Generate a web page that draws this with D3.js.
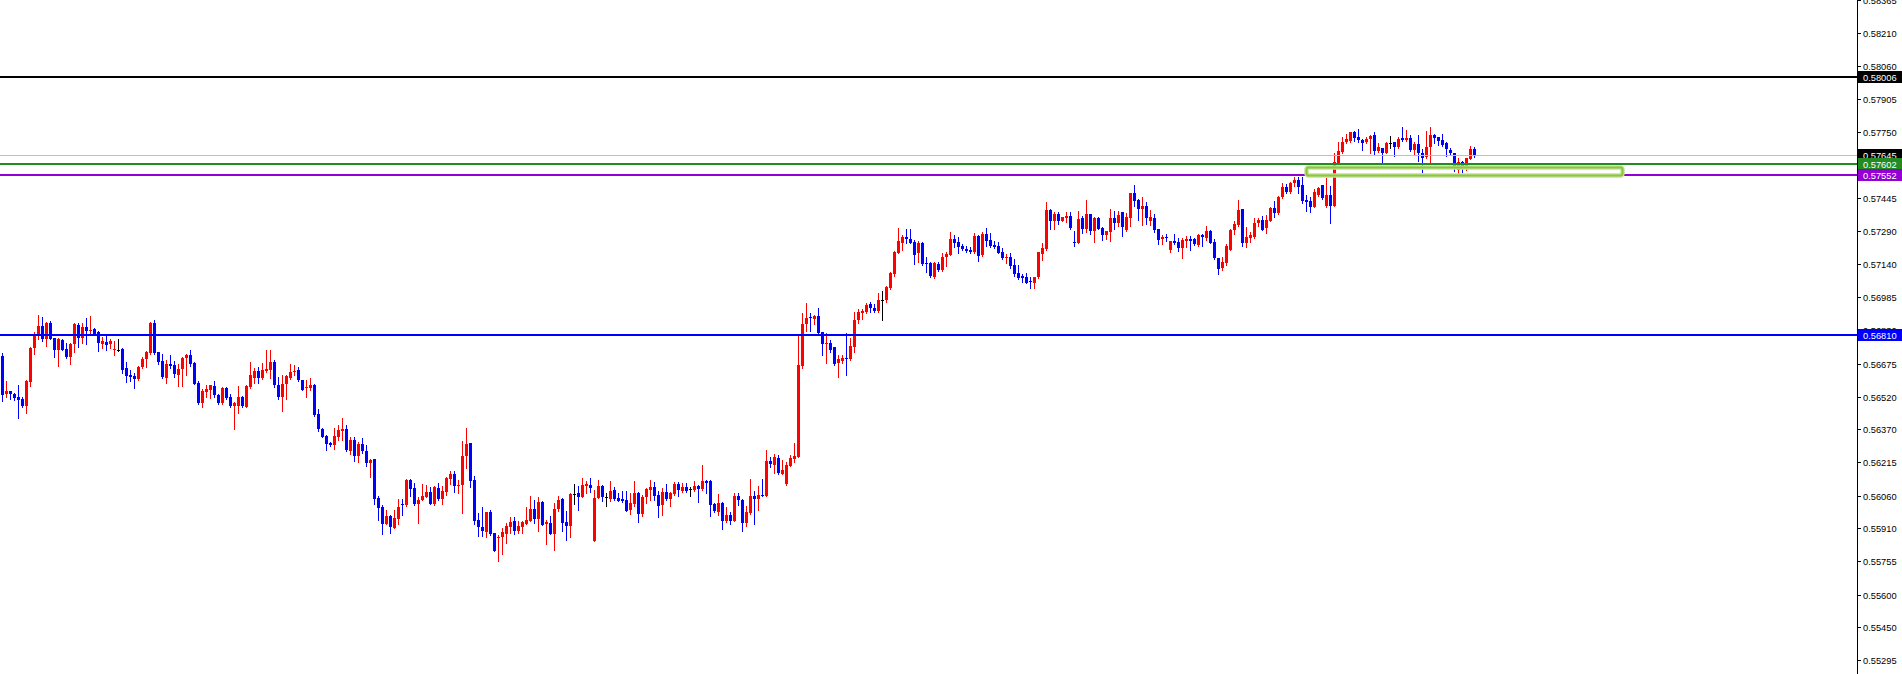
<!DOCTYPE html>
<html><head><meta charset="utf-8">
<script src="https://cdn.jsdelivr.net/npm/d3@7"></script>
<style>html,body{margin:0;padding:0;background:#fff;overflow:hidden}</style>
</head><body>
<svg id="chart" width="1902" height="674"></svg>
<script>
// ---- DATA (EUR price candles, oldest -> newest) ----
const open = [
0.56710,0.56533,0.56549,0.56533,0.56518,0.56510,0.56478,0.56591,0.56746,0.56803,
0.56850,0.56788,0.56865,0.56792,0.56738,0.56785,0.56743,0.56707,0.56766,0.56854,
0.56792,0.56843,0.56828,0.56836,0.56820,0.56764,0.56777,0.56764,0.56740,0.56740,
0.56743,0.56653,0.56622,0.56617,0.56603,0.56661,0.56695,0.56723,0.56865,0.56727,
0.56687,0.56609,0.56673,0.56668,0.56622,0.56648,0.56699,0.56715,0.56679,0.56586,
0.56490,0.56541,0.56552,0.56571,0.56529,0.56490,0.56563,0.56518,0.56478,0.56478,
0.56521,0.56475,0.56568,0.56609,0.56640,0.56606,0.56639,0.56645,0.56684,0.56575,
0.56518,0.56578,0.56606,0.56634,0.56645,0.56599,0.56560,0.56560,0.56575,0.56440,
0.56369,0.56340,0.56307,0.56296,0.56335,0.56363,0.56369,0.56268,0.56320,0.56245,
0.56301,0.56268,0.56214,0.56231,0.56048,0.56010,0.55929,0.55966,0.55912,0.55952,
0.56022,0.56017,0.56134,0.56095,0.56020,0.56041,0.56056,0.56076,0.56022,0.56098,
0.56045,0.56079,0.56138,0.56161,0.56107,0.56110,0.56245,0.56304,0.56134,0.55948,
0.55917,0.55890,0.55986,0.55889,0.55865,0.55870,0.55882,0.55917,0.55943,0.55896,
0.55917,0.55929,0.55944,0.55999,0.55952,0.56033,0.55927,0.55932,0.55882,0.55999,
0.56044,0.55937,0.55921,0.56070,0.56072,0.56056,0.56106,0.56110,0.55851,0.56051,
0.56106,0.56054,0.56045,0.56087,0.56051,0.56045,0.56041,0.55994,0.56020,0.56075,
0.55975,0.56056,0.56087,0.56099,0.56064,0.56017,0.56079,0.56045,0.56068,0.56115,
0.56084,0.56099,0.56093,0.56087,0.56106,0.56092,0.56130,0.56130,0.56022,0.55986,
0.56028,0.55944,0.55971,0.55944,0.56059,0.56041,0.55932,0.55979,0.56059,0.56045,
0.56064,0.56059,0.56223,0.56203,0.56237,0.56161,0.56115,0.56200,0.56231,0.56242,
0.56665,0.56857,0.56893,0.56882,0.56896,0.56820,0.56764,0.56769,0.56754,0.56676,
0.56688,0.56699,0.56695,0.56754,0.56878,0.56912,0.56916,0.56950,0.56935,0.56919,
0.56972,0.56971,0.57025,0.57091,0.57191,0.57237,0.57265,0.57253,0.57242,0.57191,
0.57237,0.57144,0.57144,0.57079,0.57136,0.57110,0.57172,0.57180,0.57254,0.57239,
0.57222,0.57206,0.57203,0.57195,0.57268,0.57180,0.57277,0.57250,0.57226,0.57222,
0.57192,0.57164,0.57172,0.57133,0.57095,0.57082,0.57079,0.57059,0.57051,0.57076,
0.57184,0.57206,0.57389,0.57339,0.57370,0.57339,0.57350,0.57361,0.57242,0.57237,
0.57350,0.57301,0.57370,0.57293,0.57350,0.57307,0.57273,0.57288,0.57353,0.57330,
0.57381,0.57296,0.57353,0.57470,0.57436,0.57392,0.57409,0.57339,0.57353,0.57301,
0.57253,0.57265,0.57203,0.57246,0.57242,0.57211,0.57246,0.57254,0.57253,0.57226,
0.57273,0.57257,0.57291,0.57239,0.57164,0.57118,0.57141,0.57203,0.57296,0.57319,
0.57392,0.57234,0.57257,0.57265,0.57327,0.57343,0.57307,0.57339,0.57397,0.57374,
0.57448,0.57498,0.57474,0.57513,0.57529,0.57505,0.57436,0.57432,0.57405,0.57459,
0.57505,0.57408,0.57459,0.57408,0.57609,0.57660,0.57704,0.57710,0.57753,0.57727,
0.57715,0.57704,0.57718,0.57738,0.57665,0.57676,0.57656,0.57701,0.57704,0.57680,
0.57725,0.57715,0.57722,0.57668,0.57696,0.57653,0.57637,0.57680,0.57738,0.57727,
0.57715,0.57699,0.57668,0.57653,0.57575,0.57614,0.57578,0.57626,0.57671];
const high = [
0.56726,0.56594,0.56549,0.56537,0.56575,0.56518,0.56599,0.56754,0.56820,0.56901,
0.56893,0.56870,0.56874,0.56792,0.56792,0.56788,0.56769,0.56769,0.56862,0.56862,
0.56862,0.56885,0.56896,0.56839,0.56828,0.56800,0.56808,0.56789,0.56781,0.56789,
0.56746,0.56684,0.56645,0.56630,0.56665,0.56707,0.56733,0.56870,0.56878,0.56730,
0.56718,0.56692,0.56715,0.56687,0.56671,0.56707,0.56718,0.56738,0.56684,0.56594,
0.56555,0.56575,0.56575,0.56594,0.56532,0.56564,0.56568,0.56532,0.56495,0.56571,
0.56524,0.56575,0.56684,0.56653,0.56661,0.56679,0.56738,0.56738,0.56692,0.56614,
0.56622,0.56622,0.56671,0.56668,0.56661,0.56599,0.56599,0.56606,0.56580,0.56465,
0.56374,0.56343,0.56312,0.56374,0.56389,0.56423,0.56389,0.56335,0.56332,0.56312,
0.56327,0.56296,0.56231,0.56231,0.56059,0.56017,0.55994,0.55971,0.55994,0.56045,
0.56045,0.56137,0.56137,0.56118,0.56056,0.56115,0.56110,0.56099,0.56106,0.56121,
0.56106,0.56146,0.56177,0.56175,0.56134,0.56315,0.56374,0.56307,0.56152,0.55982,
0.56006,0.55983,0.55994,0.55889,0.55878,0.55909,0.55932,0.55963,0.55960,0.55944,
0.55944,0.56006,0.56061,0.56041,0.56056,0.56036,0.55948,0.55966,0.56028,0.56059,
0.56051,0.55991,0.56072,0.56115,0.56106,0.56141,0.56130,0.56141,0.56087,0.56134,
0.56110,0.56075,0.56129,0.56099,0.56072,0.56082,0.56084,0.56072,0.56129,0.56079,
0.56064,0.56095,0.56134,0.56126,0.56084,0.56095,0.56115,0.56079,0.56126,0.56126,
0.56118,0.56118,0.56099,0.56129,0.56110,0.56203,0.56134,0.56134,0.56028,0.56068,
0.56033,0.56010,0.55986,0.56075,0.56072,0.56044,0.56013,0.56138,0.56084,0.56106,
0.56138,0.56273,0.56242,0.56254,0.56250,0.56227,0.56216,0.56250,0.56307,0.56808,
0.56909,0.56958,0.56909,0.56901,0.56935,0.56823,0.56815,0.56785,0.56754,0.56715,
0.56715,0.56819,0.56792,0.56916,0.56927,0.56927,0.56958,0.56963,0.56950,0.57005,
0.57014,0.57036,0.57102,0.57198,0.57307,0.57273,0.57299,0.57299,0.57250,0.57245,
0.57242,0.57172,0.57149,0.57149,0.57149,0.57191,0.57195,0.57288,0.57273,0.57262,
0.57229,0.57222,0.57218,0.57281,0.57273,0.57285,0.57304,0.57284,0.57246,0.57242,
0.57211,0.57184,0.57191,0.57160,0.57133,0.57091,0.57098,0.57076,0.57076,0.57195,
0.57237,0.57428,0.57394,0.57378,0.57381,0.57355,0.57381,0.57381,0.57291,0.57386,
0.57361,0.57436,0.57370,0.57355,0.57358,0.57312,0.57291,0.57394,0.57386,0.57384,
0.57381,0.57377,0.57470,0.57505,0.57439,0.57451,0.57428,0.57389,0.57369,0.57301,
0.57273,0.57277,0.57246,0.57277,0.57260,0.57257,0.57270,0.57270,0.57260,0.57276,
0.57276,0.57315,0.57296,0.57254,0.57167,0.57169,0.57229,0.57301,0.57338,0.57436,
0.57395,0.57312,0.57288,0.57350,0.57350,0.57363,0.57366,0.57401,0.57432,0.57454,
0.57516,0.57510,0.57521,0.57541,0.57544,0.57544,0.57459,0.57448,0.57485,0.57494,
0.57505,0.57539,0.57501,0.57653,0.57704,0.57727,0.57742,0.57753,0.57758,0.57764,
0.57718,0.57727,0.57738,0.57752,0.57702,0.57676,0.57707,0.57733,0.57707,0.57730,
0.57773,0.57761,0.57738,0.57704,0.57738,0.57671,0.57756,0.57777,0.57742,0.57730,
0.57742,0.57704,0.57676,0.57656,0.57629,0.57618,0.57629,0.57687,0.57680];
const low = [
0.56502,0.56518,0.56509,0.56506,0.56420,0.56475,0.56444,0.56571,0.56719,0.56788,
0.56781,0.56758,0.56788,0.56707,0.56665,0.56738,0.56702,0.56673,0.56730,0.56750,
0.56769,0.56766,0.56815,0.56808,0.56735,0.56746,0.56738,0.56749,0.56715,0.56735,
0.56633,0.56591,0.56595,0.56563,0.56599,0.56656,0.56661,0.56719,0.56719,0.56673,
0.56609,0.56586,0.56653,0.56614,0.56571,0.56571,0.56622,0.56664,0.56580,0.56485,
0.56471,0.56518,0.56513,0.56521,0.56485,0.56485,0.56510,0.56471,0.56369,0.56444,
0.56471,0.56471,0.56560,0.56583,0.56583,0.56603,0.56636,0.56606,0.56568,0.56509,
0.56456,0.56510,0.56603,0.56622,0.56595,0.56552,0.56518,0.56552,0.56433,0.56363,
0.56332,0.56273,0.56292,0.56278,0.56320,0.56320,0.56268,0.56254,0.56223,0.56219,
0.56261,0.56199,0.56149,0.56022,0.55948,0.55882,0.55929,0.55889,0.55912,0.55929,
0.55971,0.56013,0.56059,0.56017,0.55935,0.56041,0.56056,0.56022,0.56017,0.56041,
0.56022,0.56064,0.56115,0.56079,0.56075,0.55982,0.56191,0.56103,0.55929,0.55873,
0.55873,0.55870,0.55878,0.55805,0.55758,0.55789,0.55842,0.55885,0.55882,0.55889,
0.55889,0.55929,0.55944,0.55932,0.55898,0.55924,0.55836,0.55882,0.55808,0.55991,
0.55896,0.55855,0.55870,0.56022,0.55994,0.56056,0.56075,0.56079,0.55851,0.56051,
0.56037,0.56013,0.56037,0.56041,0.56037,0.56033,0.55989,0.55975,0.56013,0.55940,
0.55966,0.56025,0.56041,0.56041,0.55963,0.55971,0.56041,0.56013,0.56064,0.56059,
0.56079,0.56076,0.56059,0.56082,0.56033,0.56087,0.56075,0.55966,0.55986,0.55971,
0.55906,0.55940,0.55929,0.55944,0.56017,0.55898,0.55921,0.55975,0.55929,0.55994,
0.56059,0.56059,0.56196,0.56168,0.56161,0.56161,0.56110,0.56199,0.56219,0.56239,
0.56653,0.56828,0.56828,0.56859,0.56815,0.56715,0.56676,0.56730,0.56668,0.56614,
0.56679,0.56622,0.56692,0.56730,0.56865,0.56881,0.56909,0.56916,0.56916,0.56916,
0.56878,0.56963,0.57020,0.57082,0.57188,0.57203,0.57237,0.57234,0.57138,0.57149,
0.57133,0.57102,0.57079,0.57074,0.57107,0.57107,0.57129,0.57180,0.57215,0.57191,
0.57203,0.57195,0.57191,0.57191,0.57153,0.57177,0.57222,0.57218,0.57211,0.57188,
0.57160,0.57141,0.57118,0.57082,0.57068,0.57056,0.57048,0.57025,0.57028,0.57071,
0.57157,0.57203,0.57301,0.57301,0.57324,0.57339,0.57335,0.57301,0.57223,0.57234,
0.57284,0.57288,0.57276,0.57242,0.57301,0.57250,0.57253,0.57246,0.57299,0.57316,
0.57268,0.57291,0.57315,0.57408,0.57343,0.57319,0.57324,0.57319,0.57288,0.57231,
0.57231,0.57246,0.57195,0.57231,0.57200,0.57167,0.57219,0.57203,0.57226,0.57223,
0.57222,0.57250,0.57234,0.57161,0.57091,0.57110,0.57133,0.57203,0.57277,0.57315,
0.57222,0.57219,0.57242,0.57257,0.57315,0.57296,0.57284,0.57336,0.57358,0.57370,
0.57443,0.57470,0.57467,0.57501,0.57467,0.57420,0.57386,0.57381,0.57401,0.57454,
0.57439,0.57401,0.57330,0.57408,0.57606,0.57653,0.57699,0.57707,0.57710,0.57707,
0.57668,0.57699,0.57656,0.57645,0.57657,0.57609,0.57653,0.57676,0.57642,0.57676,
0.57711,0.57711,0.57665,0.57645,0.57617,0.57567,0.57632,0.57609,0.57702,0.57691,
0.57688,0.57642,0.57645,0.57572,0.57563,0.57567,0.57575,0.57625,0.57634];
const close = [
0.56529,0.56549,0.56533,0.56516,0.56506,0.56478,0.56595,0.56746,0.56808,0.56850,
0.56788,0.56865,0.56791,0.56738,0.56788,0.56738,0.56707,0.56766,0.56857,0.56792,
0.56843,0.56826,0.56831,0.56812,0.56769,0.56778,0.56763,0.56781,0.56743,0.56740,
0.56645,0.56617,0.56611,0.56603,0.56661,0.56695,0.56730,0.56862,0.56726,0.56684,
0.56614,0.56673,0.56664,0.56626,0.56648,0.56702,0.56715,0.56673,0.56580,0.56490,
0.56549,0.56555,0.56575,0.56529,0.56490,0.56560,0.56513,0.56478,0.56490,0.56521,
0.56478,0.56571,0.56622,0.56640,0.56609,0.56645,0.56648,0.56684,0.56575,0.56521,
0.56580,0.56617,0.56637,0.56640,0.56599,0.56552,0.56568,0.56575,0.56436,0.56369,
0.56335,0.56301,0.56296,0.56338,0.56366,0.56369,0.56273,0.56320,0.56245,0.56301,
0.56268,0.56214,0.56227,0.56045,0.56005,0.55929,0.55966,0.55917,0.55955,0.56006,
0.56017,0.56134,0.56092,0.56020,0.56041,0.56059,0.56076,0.56022,0.56099,0.56045,
0.56084,0.56141,0.56160,0.56107,0.56110,0.56245,0.56301,0.56129,0.55944,0.55917,
0.55898,0.55983,0.55882,0.55805,0.55870,0.55893,0.55921,0.55940,0.55896,0.55921,
0.55937,0.55948,0.55999,0.55952,0.56033,0.55924,0.55937,0.55882,0.55999,0.56041,
0.55935,0.55921,0.56067,0.56070,0.56056,0.56110,0.56113,0.56095,0.56051,0.56106,
0.56053,0.56054,0.56084,0.56045,0.56037,0.56036,0.55989,0.56025,0.56072,0.55975,
0.56056,0.56092,0.56099,0.56059,0.56013,0.56079,0.56045,0.56072,0.56115,0.56087,
0.56099,0.56082,0.56093,0.56106,0.56092,0.56129,0.56121,0.56017,0.55989,0.56025,
0.55944,0.55971,0.55944,0.56059,0.56041,0.55932,0.55986,0.56059,0.56045,0.56064,
0.56059,0.56223,0.56208,0.56239,0.56165,0.56180,0.56203,0.56237,0.56245,0.56668,
0.56859,0.56888,0.56885,0.56896,0.56819,0.56764,0.56772,0.56738,0.56671,0.56695,
0.56699,0.56695,0.56757,0.56878,0.56916,0.56921,0.56947,0.56935,0.56919,0.56971,
0.56972,0.57029,0.57098,0.57195,0.57245,0.57265,0.57253,0.57237,0.57180,0.57237,
0.57138,0.57141,0.57082,0.57144,0.57110,0.57172,0.57184,0.57254,0.57234,0.57219,
0.57206,0.57200,0.57195,0.57268,0.57175,0.57277,0.57245,0.57223,0.57218,0.57191,
0.57167,0.57172,0.57130,0.57090,0.57074,0.57074,0.57051,0.57056,0.57076,0.57192,
0.57211,0.57389,0.57339,0.57370,0.57339,0.57355,0.57361,0.57304,0.57237,0.57347,
0.57301,0.57370,0.57293,0.57350,0.57301,0.57273,0.57291,0.57353,0.57330,0.57366,
0.57312,0.57355,0.57470,0.57432,0.57392,0.57408,0.57350,0.57358,0.57296,0.57250,
0.57265,0.57260,0.57245,0.57237,0.57211,0.57250,0.57254,0.57246,0.57231,0.57273,
0.57265,0.57291,0.57237,0.57164,0.57115,0.57146,0.57222,0.57296,0.57324,0.57389,
0.57234,0.57265,0.57273,0.57327,0.57343,0.57296,0.57343,0.57397,0.57374,0.57451,
0.57498,0.57474,0.57516,0.57529,0.57498,0.57432,0.57428,0.57405,0.57474,0.57493,
0.57443,0.57459,0.57408,0.57614,0.57663,0.57704,0.57718,0.57750,0.57722,0.57715,
0.57702,0.57719,0.57733,0.57665,0.57680,0.57656,0.57702,0.57701,0.57680,0.57718,
0.57715,0.57722,0.57668,0.57696,0.57653,0.57632,0.57680,0.57738,0.57722,0.57711,
0.57691,0.57671,0.57653,0.57578,0.57611,0.57578,0.57629,0.57671,0.57645];

// price-axis tick labels (MT4 style grid)
const tickLabels = ["0.58365","0.58210","0.58060","0.57905","0.57750","0.57595","0.57445",
  "0.57290","0.57140","0.56985","0.56830","0.56675","0.56520","0.56370","0.56215",
  "0.56060","0.55910","0.55755","0.55600","0.55450","0.55295"];

// horizontal levels: resistance, bid, green level, purple level, support
const levelNames  = ["resistance","bid","green","purple","support"];
const levelPrices = [0.58006, 0.57645, 0.57602, 0.57552, 0.56810];
const levelLabels = ["0.58006","0.57645","0.57602","0.57552","0.56810"];

// highlighted zone (bar index range and price range)
const zoneBars   = [326, 405];
const zonePrices = [0.57587, 0.57549];

// visible price range of the window
const priceRange = [0.552314, 0.583655];

// ---- DRAW ----
const W = 1902, H = 674, axisX = 1857;
const levelStyle = {
  resistance: {stroke:"#000000", w:2, box:"#000000"},
  bid:        {stroke:"#c0c0c0", w:1, box:"#000000"},
  green:      {stroke:"#228b22", w:2, box:"#228b22"},
  purple:     {stroke:"#9400d3", w:2, box:"#9400d3"},
  support:    {stroke:"#0000ff", w:2, box:"#0000ff"}
};
const svg = d3.select("#chart");
svg.append("rect").attr("width", W).attr("height", H).attr("fill", "#fff");

const y = d3.scaleLinear().domain(priceRange).range([H, 0]);
const x = d3.scaleLinear().domain([0, open.length - 1]).range([2.5, 2.5 + 4 * (open.length - 1)]);

const idx = d3.range(open.length);
const col = i => close[i] > open[i] ? "#ff0000" : (close[i] < open[i] ? "#0000ff" : "#000000");

const cg = svg.append("g").attr("shape-rendering", "crispEdges");
cg.selectAll("rect.wick").data(idx).join("rect")
  .attr("class", "wick")
  .attr("x", i => x(i) - 0.5).attr("width", 1)
  .attr("y", i => Math.round(y(high[i])))
  .attr("height", i => Math.max(1, Math.round(y(low[i])) - Math.round(y(high[i])) + 1))
  .attr("fill", col);
cg.selectAll("rect.body").data(idx).join("rect")
  .attr("class", "body")
  .attr("x", i => x(i) - 1.5).attr("width", 3)
  .attr("y", i => Math.round(y(Math.max(open[i], close[i]))))
  .attr("height", i => Math.max(1, Math.round(y(Math.min(open[i], close[i]))) - Math.round(y(Math.max(open[i], close[i])))))
  .attr("fill", col);

// level lines
const lg = svg.append("g");
levelNames.forEach((n, k) => {
  const s = levelStyle[n];
  const yy = s.w === 1 ? Math.round(y(levelPrices[k])) + 0.5 : Math.round(y(levelPrices[k]));
  lg.append("line").attr("x1", 0).attr("x2", axisX).attr("y1", yy).attr("y2", yy)
    .attr("stroke", s.stroke).attr("stroke-width", s.w);
});

// zone rectangle
const zx0 = x(zoneBars[0]), zx1 = x(zoneBars[1]);
const zy0 = y(zonePrices[0]), zy1 = y(zonePrices[1]);
svg.append("rect").attr("x", zx0).attr("y", zy0).attr("width", zx1 - zx0).attr("height", zy1 - zy0)
  .attr("rx", 2).attr("fill", "none").attr("stroke", "#c3e396").attr("stroke-width", 4.5);
svg.append("rect").attr("x", zx0).attr("y", zy0).attr("width", zx1 - zx0).attr("height", zy1 - zy0)
  .attr("rx", 2).attr("fill", "none").attr("stroke", "#8cc63e").attr("stroke-width", 2);

// price axis
const ag = svg.append("g");
ag.append("rect").attr("x", axisX).attr("y", 0).attr("width", W - axisX).attr("height", H).attr("fill", "#fff");
ag.append("line").attr("x1", axisX + 0.5).attr("x2", axisX + 0.5).attr("y1", 0).attr("y2", H)
  .attr("stroke", "#000").attr("stroke-width", 1);
const font = "'Liberation Sans', Arial, sans-serif";
tickLabels.forEach(t => {
  const yy = Math.round(y(+t)) + 0.5;
  ag.append("line").attr("x1", axisX + 1).attr("x2", axisX + 4).attr("y1", yy).attr("y2", yy)
    .attr("stroke", "#000").attr("stroke-width", 1);
  ag.append("text").attr("x", axisX + 6).attr("y", yy + 3.3).text(t)
    .attr("font-family", font).attr("font-size", "9.3px").attr("fill", "#000");
});
// price boxes (drawn in order so later ones overlap)
["resistance","support","bid","green","purple"].forEach(n => {
  const k = levelNames.indexOf(n);
  const yc = Math.round(y(levelPrices[k]));
  ag.append("rect").attr("x", axisX + 1).attr("y", yc - 6).attr("width", W - axisX - 1).attr("height", 12)
    .attr("fill", levelStyle[n].box);
  ag.append("text").attr("x", axisX + 6).attr("y", yc + 3.5).text(levelLabels[k])
    .attr("font-family", font).attr("font-size", "9.3px").attr("fill", "#fff");
});
</script>
</body></html>
